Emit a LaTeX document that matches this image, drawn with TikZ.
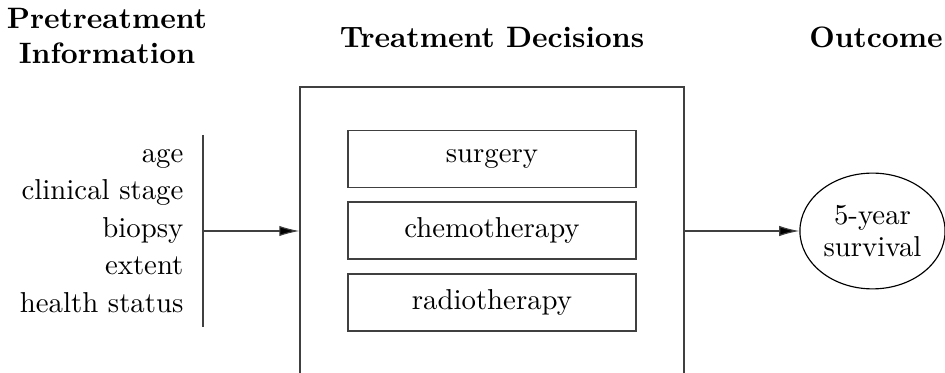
\documentclass[tikz,border=0pt]{standalone}
\usetikzlibrary{arrows.meta,shapes.geometric}
\begin{document}
\begin{tikzpicture}[x=0.3472pt,y=-0.3472pt,
  line/.style={draw=black!75,line width=0.4pt},
  arr/.style={line,-{Latex[length=7pt,width=3.6pt,fill=black]}},
  head/.style={font=\bfseries\fontsize{10.25}{12.2}\selectfont,align=center,inner sep=0pt},
  tbox/.style={line,minimum width=100pt,minimum height=19.8pt,inner sep=0pt,font=\fontsize{10}{12}\selectfont},
  bigbox/.style={line,minimum width=133.3pt,minimum height=100pt,inner sep=0pt},
  oval/.style={ellipse,draw=black,line width=0.4pt,minimum width=50.4pt,minimum height=40.2pt,inner sep=0pt,align=center,font=\fontsize{10}{11.1}\selectfont}]
\useasboundingbox (0,0) rectangle (945,373);
\node[head] (h1) at (107,36) {Pretreatment\\Information};
\node[head] (h2) at (492,37) {Treatment Decisions};
\node[head] (h3) at (876,37) {Outcome};
\node[align=right,anchor=east,inner sep=0pt,font=\fontsize{10}{13}\selectfont] (info) at (184,231)
  {age\\clinical stage\\biopsy\\extent\\health status};
\coordinate (vt) at (203,135);
\coordinate (vb) at (203,327);
\coordinate (vm) at (203,231);
\draw[line] (vt) -- (vb);
\node[bigbox] (box) at (492,231) {};
\node[tbox] (s) at (492,159) {surgery};
\node[tbox] (c) at (492,230.5) {chemotherapy};
\node[tbox] (r) at (492,302.5) {radiotherapy};
\node[oval] (o) at (872.5,231) {5-year\\survival};
\draw[arr] (vm) -- (box.west);
\draw[arr] (box.east) -- (o.west);
\end{tikzpicture}
\end{document}
